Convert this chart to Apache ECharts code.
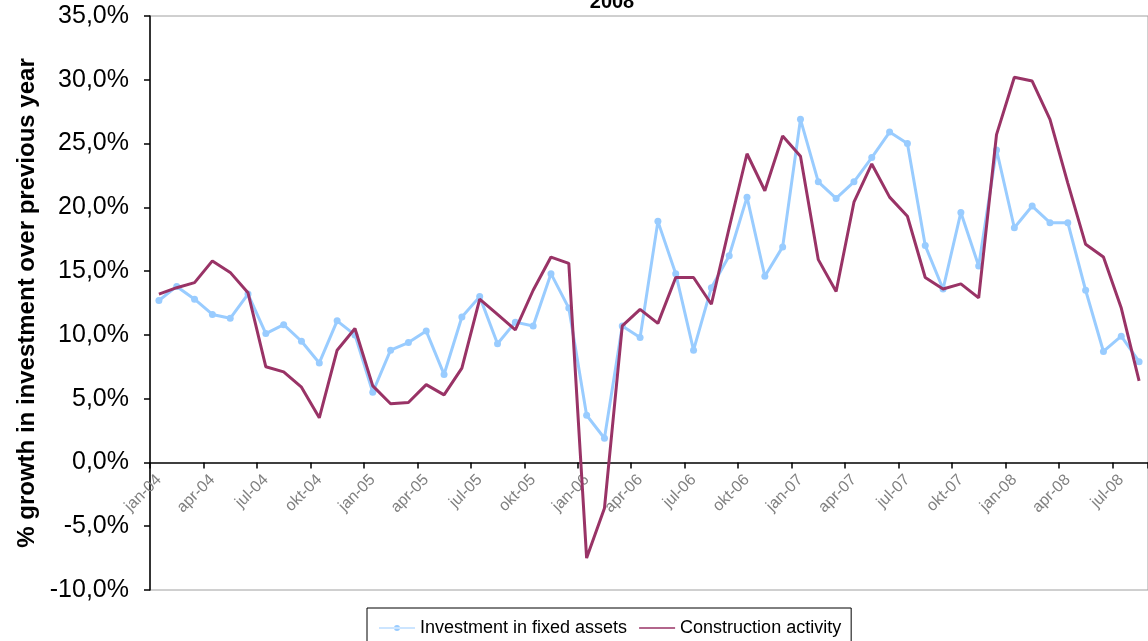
<!DOCTYPE html>
<html>
<head>
<meta charset="utf-8">
<script src="https://cdn.jsdelivr.net/npm/echarts@6/dist/echarts.min.js"></script>
<style>
html,body{margin:0;padding:0;background:#fff;}
#c{width:1148px;height:641px;}
</style>
</head>
<body>
<div id="c"></div>
<script>
const categories = [
 'jan-04','feb-04','mar-04','apr-04','mai-04','jun-04','jul-04','aug-04','sep-04','okt-04','nov-04','des-04',
 'jan-05','feb-05','mar-05','apr-05','mai-05','jun-05','jul-05','aug-05','sep-05','okt-05','nov-05','des-05',
 'jan-06','feb-06','mar-06','apr-06','mai-06','jun-06','jul-06','aug-06','sep-06','okt-06','nov-06','des-06',
 'jan-07','feb-07','mar-07','apr-07','mai-07','jun-07','jul-07','aug-07','sep-07','okt-07','nov-07','des-07',
 'jan-08','feb-08','mar-08','apr-08','mai-08','jun-08','jul-08','aug-08'
];
const fixedAssets = [
 12.7,13.8,12.8,11.6,11.3,13.2,10.1,10.8,9.5,7.8,11.1,10.0,
 5.5,8.8,9.4,10.3,6.9,11.4,13.0,9.3,11.0,10.7,14.8,12.1,
 3.7,1.9,10.7,9.8,18.9,14.8,8.8,13.7,16.2,20.8,14.6,16.9,
 26.9,22.0,20.7,22.0,23.9,25.9,25.0,17.0,13.6,19.6,15.4,24.5,
 18.4,20.1,18.8,18.8,13.5,8.7,9.9,7.9
];
const construction = [
 13.2,13.7,14.1,15.8,14.9,13.3,7.5,7.1,5.9,3.5,8.8,10.5,
 6.0,4.6,4.7,6.1,5.3,7.4,12.8,11.6,10.4,13.5,16.1,15.6,
 -7.5,-3.6,10.7,12.0,10.9,14.5,14.5,12.4,18.4,24.2,21.3,25.6,
 24.0,15.9,13.4,20.4,23.4,20.8,19.3,14.5,13.6,14.0,12.9,25.7,
 30.2,29.9,26.9,21.9,17.1,16.1,12.1,6.4
];
const yTicks = {min: -10, max: 35, interval: 5};
const seriesNames = ['Investment in fixed assets', 'Construction activity'];

const FONT = 'Liberation Sans, Arial, sans-serif';
const gridTop = 16, gridBottom = 51, H = 641;
const plotH = H - gridTop - gridBottom;
// shift the category axis up so it sits on the 0 line
const zeroOffset = -plotH * (0 - yTicks.min) / (yTicks.max - yTicks.min);

const chart = echarts.init(document.getElementById('c'), null, {renderer: 'canvas'});
chart.setOption({
  animation: false,
  backgroundColor: '#fff',
  textStyle: {fontFamily: FONT},
  title: {
    text: '2008', left: 607, top: -13,
    textAlign: 'center',
    textStyle: {fontSize: 20, fontWeight: 'bold', color: '#000', fontFamily: FONT}
  },
  grid: {
    left: 150, right: -4, top: gridTop, bottom: gridBottom,
    show: true, borderColor: '#a0a0a0', borderWidth: 1, backgroundColor: 'transparent'
  },
  legend: {
    left: 367, top: 608,
    width: 485,
    padding: [11, 10, 12, 12],
    itemGap: 12,
    itemWidth: 36, itemHeight: 10,
    borderColor: '#000', borderWidth: 1, backgroundColor: '#fff',
    textStyle: {fontSize: 18, color: '#000', fontFamily: FONT},
    data: [
      {name: seriesNames[0], icon: 'path://M0,4.4 L36,4.4 L36,5.6 L0,5.6 Z M15,5 A3,3 0 1 0 21,5 A3,3 0 1 0 15,5 Z'},
      {name: seriesNames[1], icon: 'path://M0,4.3 L36,4.3 L36,5.7 L0,5.7 Z'}
    ]
  },
  xAxis: {
    type: 'category',
    data: categories,
    boundaryGap: true,
    position: 'bottom',
    offset: zeroOffset,
    axisLine: {onZero: false, lineStyle: {color: '#000', width: 1.5}},
    axisTick: {show: true, interval: 2, length: 6, inside: false, lineStyle: {color: '#000', width: 1.5}},
    axisLabel: {interval: 2, rotate: 45, margin: 15, fontSize: 16, color: '#808080', fontFamily: FONT},
    splitLine: {show: false}
  },
  yAxis: {
    type: 'value',
    min: yTicks.min, max: yTicks.max, interval: yTicks.interval,
    name: '% growth in investment over previous year',
    nameLocation: 'middle',
    nameGap: 102,
    nameTextStyle: {fontSize: 24, fontWeight: 'bold', color: '#000', fontFamily: FONT},
    axisLine: {show: true, onZero: false, lineStyle: {color: '#000', width: 1.5}},
    axisTick: {show: true, length: 6, lineStyle: {color: '#000', width: 1.5}},
    axisLabel: {
      fontSize: 25, color: '#000', margin: 21,
      fontFamily: FONT,
      formatter: v => v.toFixed(1).replace('.', ',') + '%'
    },
    splitLine: {show: false}
  },
  series: [
    {
      name: seriesNames[0], type: 'line', data: fixedAssets,
      color: '#99CCFF',
      lineStyle: {width: 3, color: '#99CCFF'},
      itemStyle: {color: '#99CCFF'},
      symbol: 'circle', symbolSize: 7, showSymbol: true,
      z: 2
    },
    {
      name: seriesNames[1], type: 'line', data: construction,
      color: '#993366',
      lineStyle: {width: 3, color: '#993366'},
      itemStyle: {color: '#993366'},
      symbol: 'none',
      z: 3
    }
  ]
});
</script>
</body>
</html>
